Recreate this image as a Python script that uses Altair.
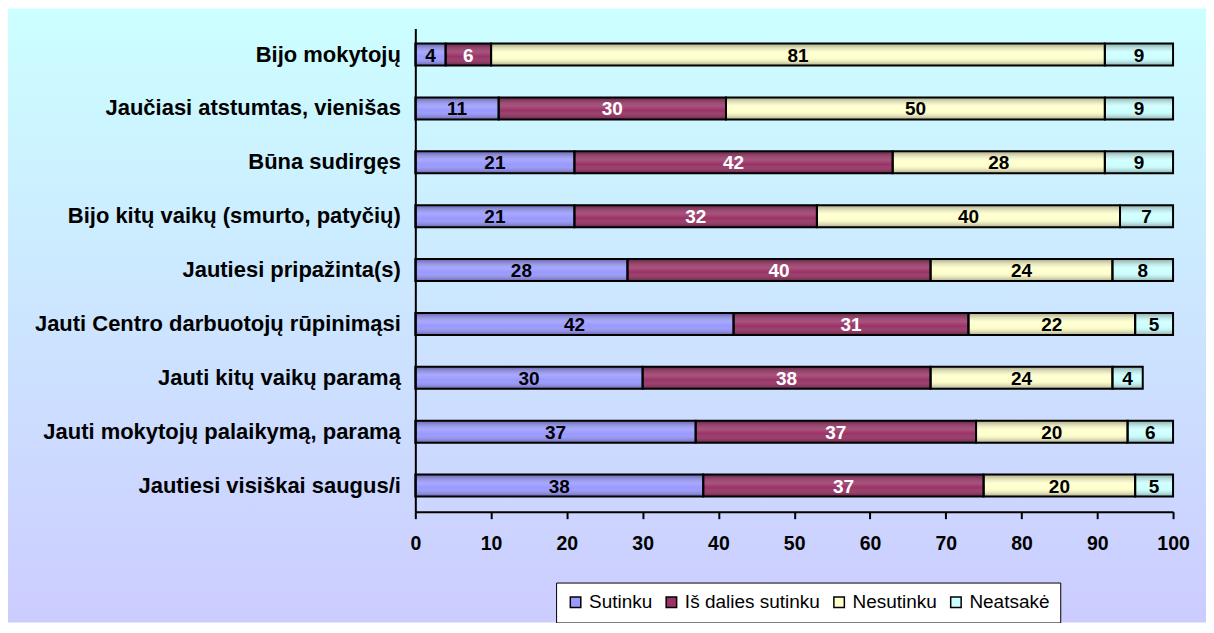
import altair as alt
import pandas as pd

categories = [
    "Bijo mokytojų",
    "Jaučiasi atstumtas, vienišas",
    "Būna sudirgęs",
    "Bijo kitų vaikų (smurto, patyčių)",
    "Jautiesi pripažinta(s)",
    "Jauti Centro darbuotojų rūpinimąsi",
    "Jauti kitų vaikų  paramą",
    "Jauti  mokytojų palaikymą, paramą",
    "Jautiesi visiškai saugus/i",
]
series = ["Sutinku", "Iš dalies sutinku", "Nesutinku", "Neatsakė"]
sutinku = [4, 11, 21, 21, 28, 42, 30, 37, 38]
is_dalies = [6, 30, 42, 32, 40, 31, 38, 37, 37]
nesutinku = [81, 50, 28, 40, 24, 22, 24, 20, 20]
neatsake = [9, 9, 9, 7, 8, 5, 4, 6, 5]
colors = ["#9999ff", "#993366", "#ffffcc", "#ccffff"]
x_ticks = [0, 10, 20, 30, 40, 50, 60, 70, 80, 90, 100]

rows = []
for si, (name, vals) in enumerate(zip(series, [sutinku, is_dalies, nesutinku, neatsake])):
    for c, v in zip(categories, vals):
        rows.append({"cat": c, "series": name, "ord": si, "value": v})
df = pd.DataFrame(rows)

FONT = "Liberation Sans"
W, H = 759, 484
PL, PT, PR, PB = 408, 20, 33, 111

base = (
    alt.Chart(df)
    .transform_stack(stack="value", groupby=["cat"], as_=["start", "end"],
                     sort=[alt.SortField("ord", order="ascending")])
    .transform_calculate(mid="(datum.start + datum.end) / 2")
)

yenc = alt.Y("cat:N", sort=categories, title=None,
             scale=alt.Scale(paddingInner=0.592, paddingOuter=0.28),
             axis=alt.Axis(labelFont=FONT, labelFontSize=22, labelFontWeight="bold",
                           labelColor="black", labelPadding=15, ticks=False,
                           domainColor="black", domainWidth=2, labelLimit=500, zindex=1))
xenc = alt.X("start:Q", title=None,
             scale=alt.Scale(domain=[0, 100], nice=False, zero=True),
             axis=alt.Axis(values=x_ticks, labelFont=FONT, labelFontSize=19.5,
                           labelFontWeight="bold", labelColor="black", labelPadding=16,
                           labelFlush=False,
                           tickSize=7, tickColor="black", tickWidth=2,
                           domainColor="black", domainWidth=2, grid=False, zindex=1))

bars = base.mark_bar(opacity=1).encode(
    y=yenc,
    x=xenc,
    x2="end:Q",
    color=alt.Color("series:N", sort=series,
                    scale=alt.Scale(domain=series, range=colors),
                    legend=alt.Legend(title=None, orient="none", legendX=141, legendY=555,
                                      direction="horizontal", fillColor="white",
                                      strokeColor="black", padding=10,
                                      symbolType="square", symbolSize=110,
                                      symbolStrokeColor="black", symbolStrokeWidth=1.5,
                                      symbolOpacity=1,
                                      labelFont=FONT, labelFontSize=19, labelColor="black",
                                      labelOffset=4, columnPadding=9)),
)

shade = alt.LinearGradient(
    gradient="linear", x1=0, y1=0, x2=0, y2=1,
    stops=[
        alt.GradientStop(color="rgba(0,0,0,0.35)", offset=0),
        alt.GradientStop(color="rgba(255,255,255,0.15)", offset=0.4),
        alt.GradientStop(color="rgba(255,255,255,0.0)", offset=0.6),
        alt.GradientStop(color="rgba(0,0,0,0.35)", offset=1),
    ],
)
shading = base.mark_bar(color=shade, stroke="black", strokeWidth=2).encode(
    y=alt.Y("cat:N", sort=categories),
    x=alt.X("start:Q"),
    x2="end:Q",
)

labels = base.mark_text(font=FONT, fontSize=19, fontWeight="bold", baseline="middle",
                        align="center", dy=1).encode(
    y=alt.Y("cat:N", sort=categories),
    x=alt.X("mid:Q"),
    text=alt.Text("value:Q"),
    color=alt.condition(alt.datum.series == "Iš dalies sutinku",
                        alt.value("white"), alt.value("black")),
)

bg_grad = alt.LinearGradient(
    gradient="linear", x1=0, y1=0, x2=0, y2=1,
    stops=[alt.GradientStop(color="#ccffff", offset=0),
           alt.GradientStop(color="#ccccff", offset=1)],
)
background = alt.Chart(pd.DataFrame({"a": [0]})).mark_rect(color=bg_grad).encode(
    x=alt.value(-PL), x2=alt.value(W + PR), y=alt.value(-PT), y2=alt.value(H + PB)
)

chart = (
    alt.layer(background, bars, shading, labels)
    .resolve_scale(color="independent")
    .properties(width=W, height=H, autosize=alt.AutoSizeParams(type="none"),
                padding={"left": PL, "top": PT, "right": PR, "bottom": PB})
    .configure(background="white")
    .configure_view(stroke=None)
)

chart.save("out.html", embed_options={"renderer": "svg", "actions": False})
